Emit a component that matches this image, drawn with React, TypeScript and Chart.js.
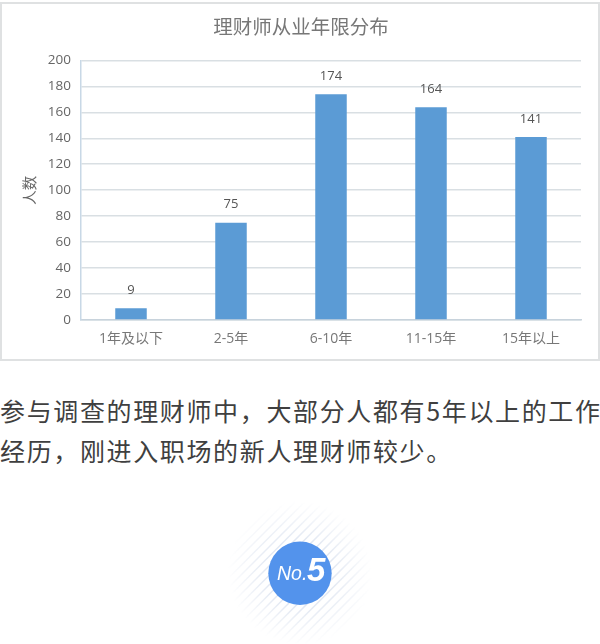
import React, { useEffect, useRef } from "react";
import { Chart, registerables } from "chart.js";

Chart.register(...registerables);

const title = "理财师从业年限分布";
const axisTitle = "人数";
const categories = ["1年及以下", "2-5年", "6-10年", "11-15年", "15年以上"];
const values = [9, 75, 174, 164, 141];
const paragraphLines = [
  "参与调查的理财师中，大部分人都有5年以上的工作",
  "经历，刚进入职场的新人理财师较少。",
];
const CJK = '"Noto Sans CJK SC", "Noto Sans", sans-serif';
const NUM = '"Open Sans", "Noto Sans CJK SC", sans-serif';

const valueLabels = {
  id: "valueLabels",
  afterDatasetsDraw(chart: any) {
    const { ctx } = chart;
    const meta = chart.getDatasetMeta(0);
    ctx.save();
    ctx.font = `13px ${NUM}`;
    ctx.fillStyle = "#555";
    ctx.textAlign = "center";
    ctx.textBaseline = "middle";
    meta.data.forEach((bar: any, i: number) => {
      ctx.fillText(String(values[i]), bar.x, bar.y - 18);
    });
    ctx.restore();
  },
};

export default function App() {
  const ref = useRef<HTMLCanvasElement>(null);
  useEffect(() => {
    document.body.style.margin = "0";
    document.body.style.background = "#fff";
    const chart = new Chart(ref.current!, {
      type: "bar",
      data: {
        labels: categories,
        datasets: [
          {
            data: values,
            backgroundColor: "#5b9bd5",
            categoryPercentage: 1,
            barPercentage: 0.315,
          },
        ],
      },
      plugins: [valueLabels],
      options: {
        animation: false,
        responsive: false,
        devicePixelRatio: 1,
        layout: { padding: { top: 0, right: 19, left: 21, bottom: 0 } },
        plugins: {
          legend: { display: false },
          tooltip: { enabled: false },
          title: {
            display: true,
            text: title,
            color: "#777",
            font: { family: CJK, size: 19.5, weight: "normal" },
            padding: { top: 15, bottom: 22 },
          },
        },
        scales: {
          x: {
            afterFit: (s: any) => {
              s.height = 41;
            },
            grid: { display: false, drawTicks: false },
            border: { color: "#c8d3dc", width: 1.5 },
            ticks: {
              color: "#777",
              font: { family: NUM, size: 14 },
              padding: 11,
              maxRotation: 0,
            },
          },
          y: {
            min: 0,
            max: 200,
            afterFit: (s: any) => {
              s.width = 60;
            },
            grid: { color: "#d9dfe3", lineWidth: 1.5, drawTicks: false },
            border: { color: "#c8d8e6", width: 1.5 },
            title: {
              display: true,
              text: axisTitle,
              color: "#666",
              font: { family: CJK, size: 14.5 },
              padding: { top: 0, bottom: 14 },
            },
            ticks: {
              stepSize: 20,
              color: "#666",
              font: { family: NUM, size: 13.5 },
              padding: 10,
            },
          },
        },
      } as any,
    });
    return () => chart.destroy();
  }, []);

  const stripes: number[] = [];
  for (let i = -10; i <= 10; i++) stripes.push(i);

  return (
    <div style={{ position: "relative", width: 600, height: 644, overflow: "hidden", background: "#fff" }}>
      <canvas ref={ref} width={600} height={361} style={{ position: "absolute", left: 0, top: 0, display: "block" }} />
      <div
        style={{
          position: "absolute",
          left: 0,
          top: 2,
          width: 596,
          height: 355,
          border: "2px solid #dfe1e2",
          pointerEvents: "none",
        }}
      />
      <div
        style={{
          position: "absolute",
          left: 0,
          top: 390,
          width: 640,
          fontFamily: CJK,
          fontSize: 25,
          letterSpacing: 1.64,
          lineHeight: "40px",
          color: "#3f3f3f",
          whiteSpace: "nowrap",
        }}
      >
        {paragraphLines.map((l) => (
          <div key={l}>{l}</div>
        ))}
      </div>
      <svg width={600} height={644} style={{ position: "absolute", left: 0, top: 0 }}>
        <defs>
          <radialGradient id="fade" cx="300" cy="573" r="72" gradientUnits="userSpaceOnUse">
            <stop offset="0.35" stopColor="#fff" stopOpacity="0.8" />
            <stop offset="1" stopColor="#fff" stopOpacity="0" />
          </radialGradient>
          <mask id="m">
            <rect x="200" y="480" width="200" height="164" fill="url(#fade)" />
          </mask>
        </defs>
        <g mask="url(#m)" stroke="#d3dcec" strokeWidth="1.5">
          {stripes.map((i) => (
            <line key={i} x1={300 - 90 + i * 9.5} y1={573 + 90} x2={300 + 90 + i * 9.5} y2={573 - 90} />
          ))}
        </g>
        <circle cx="300" cy="573.3" r="31.7" fill="#5393ec" />
        <text x="277" y="580" fill="#fff" fontFamily="Liberation Sans" fontStyle="italic" fontSize="19.5">
          No.
        </text>
        <text x="307" y="581" fill="#fff" fontFamily="Liberation Sans" fontStyle="italic" fontWeight="bold" fontSize="33">
          5
        </text>
      </svg>
    </div>
  );
}
